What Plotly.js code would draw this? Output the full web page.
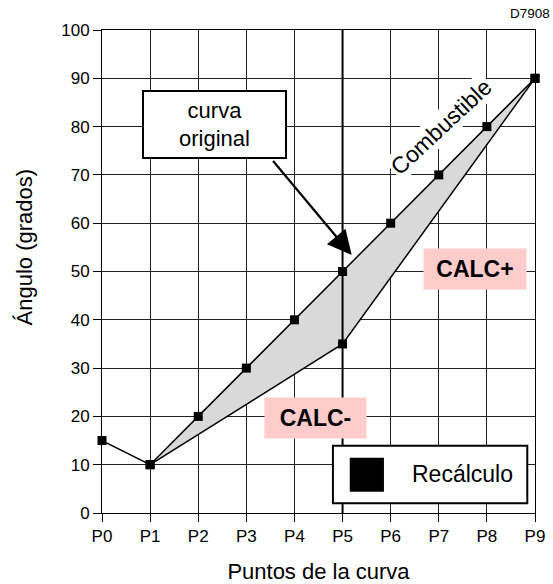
<!DOCTYPE html>
<html>
<head>
<meta charset="utf-8">
<script src="https://cdn.plot.ly/plotly-3.0.1.min.js"></script>
<style>html,body{margin:0;padding:0;background:#fff;}#chart{width:553px;height:584px;}</style>
</head>
<body>
<div id="chart"></div>
<script>
const categories = ['P0','P1','P2','P3','P4','P5','P6','P7','P8','P9'];
const curvaOriginal = [15, 10, 20, 30, 40, 50, 60, 70, 80, 90];
const recalculo = [null, 10, null, null, null, 35, null, null, null, 90];
const yTicks = [0,10,20,30,40,50,60,70,80,90,100];

// band polygon between the two curves (from P1 to P9)
const bandX = [], bandY = [];
for (let i = 1; i < categories.length; i++) { bandX.push(categories[i]); bandY.push(curvaOriginal[i]); }
for (let i = categories.length - 1; i >= 1; i--) {
  if (recalculo[i] !== null) { bandX.push(categories[i]); bandY.push(recalculo[i]); }
}

const FONT = 'Liberation Sans, Arial, Helvetica, sans-serif';

const traces = [
  {x: bandX, y: bandY, type: 'scatter', mode: 'lines', fill: 'toself',
   fillcolor: '#d9d9d9', line: {width: 0}, hoverinfo: 'skip', showlegend: false},
  {x: categories, y: recalculo, type: 'scatter', mode: 'lines+markers', connectgaps: true,
   line: {color: '#000', width: 1.5}, marker: {symbol: 'square', size: 9, color: '#000'},
   cliponaxis: false, showlegend: false, name: 'Recálculo'},
  {x: categories, y: curvaOriginal, type: 'scatter', mode: 'lines+markers',
   line: {color: '#000', width: 1.5}, marker: {symbol: 'square', size: 9, color: '#000'},
   cliponaxis: false, showlegend: false, name: 'curva original'}
];

const layout = {
  width: 553, height: 584,
  margin: {l: 102, r: 18, t: 30, b: 71},
  paper_bgcolor: '#fff', plot_bgcolor: '#fff',
  font: {family: FONT, color: '#000'},
  showlegend: false,
  xaxis: {
    type: 'category', categoryorder: 'array', categoryarray: categories,
    range: [0, 9], fixedrange: true,
    showgrid: true, gridcolor: '#222', gridwidth: 1,
    showline: true, linecolor: '#000', linewidth: 1, mirror: true,
    ticks: 'outside', ticklen: 8, tickcolor: '#000', tickwidth: 1,
    tickfont: {size: 17, family: FONT},
    zeroline: false,
    title: {text: 'Puntos de la curva', font: {size: 22, family: FONT}, standoff: 18}
  },
  yaxis: {
    range: [0, 100], tickvals: yTicks, ticktext: yTicks.map(String), fixedrange: true,
    showgrid: true, gridcolor: '#222', gridwidth: 1,
    showline: true, linecolor: '#000', linewidth: 1, mirror: true,
    ticks: 'outside', ticklen: 8, tickcolor: '#000', tickwidth: 1,
    tickfont: {size: 17, family: FONT},
    zeroline: false
  },
  shapes: [
    {type: 'line', xref: 'x', yref: 'y', x0: 5, x1: 5, y0: 0, y1: 100,
     line: {color: '#000', width: 2}, layer: 'above'},
    {type: 'rect', xref: 'x', yref: 'y', x0: 4.80, x1: 8.84, y0: 2.0, y1: 13.9,
     line: {color: '#000', width: 2}, fillcolor: '#fff', layer: 'above'},
    {type: 'rect', xref: 'x', yref: 'y', x0: 5.15, x1: 5.86, y0: 4.41, y1: 11.44,
     line: {width: 0}, fillcolor: '#000', layer: 'above'}
  ],
  annotations: [
    {xref: 'paper', yref: 'paper', x: -0.180, y: 0.55, text: 'Ángulo (grados)', textangle: -90,
     showarrow: false, font: {size: 22, family: FONT}, xanchor: 'center', yanchor: 'middle'},
    {xref: 'paper', yref: 'paper', x: 1.04, y: 1.0, yshift: 17, text: 'D7908',
     showarrow: false, font: {size: 13.5, family: FONT}, xanchor: 'right', yanchor: 'middle'},
    {xref: 'x', yref: 'y', x: 5.19, y: 53.4, ax: 3.53, ay: 73.2, axref: 'x', ayref: 'y',
     text: '', showarrow: true, arrowhead: 2, arrowsize: 2.2, arrowwidth: 2.2, arrowcolor: '#000'},
    {xref: 'x', yref: 'y', x: 2.34, y: 80.4, text: 'curva<br>original', showarrow: false,
     font: {size: 22, family: FONT}, bgcolor: '#fff', bordercolor: '#000', borderwidth: 2,
     borderpad: 1, width: 139, height: 63, align: 'center'},
    {xref: 'x', yref: 'y', x: 7.04, y: 80.0, text: 'Combustible', textangle: -43, showarrow: false,
     font: {size: 23, family: FONT}, bgcolor: '#fff', borderpad: 1},
    {xref: 'x', yref: 'y', x: 7.75, y: 50.5, text: '<b>CALC+</b>', showarrow: false,
     font: {size: 23, family: FONT}, bgcolor: '#ffcccc', width: 100, height: 38, borderpad: 1},
    {xref: 'x', yref: 'y', x: 4.43, y: 19.66, text: '<b>CALC-</b>', showarrow: false,
     font: {size: 23, family: FONT}, bgcolor: '#ffcccc', width: 99, height: 38, borderpad: 1},
    {xref: 'x', yref: 'y', x: 7.49, y: 8.07, text: 'Recálculo', showarrow: false,
     font: {size: 23, family: FONT}}
  ]
};

Plotly.newPlot('chart', traces, layout, {displayModeBar: false, staticPlot: true});
</script>
</body>
</html>
